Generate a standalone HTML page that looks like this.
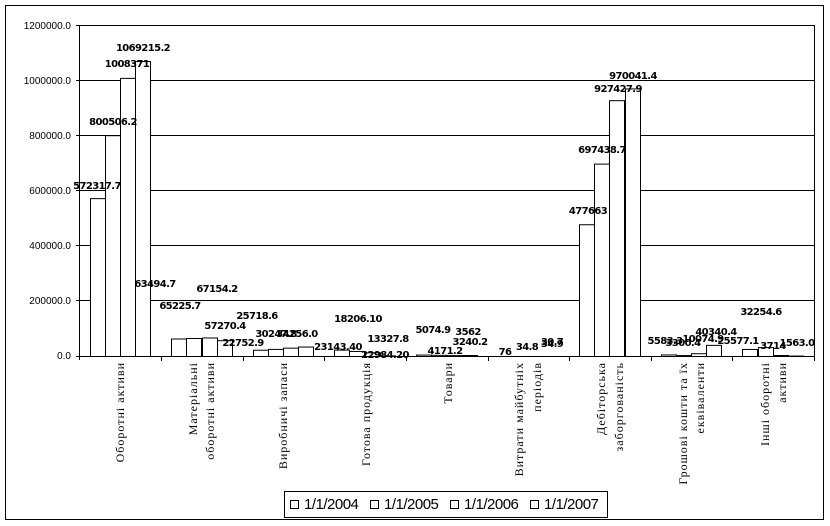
<!DOCTYPE html>
<html><head><meta charset="utf-8"><style>
body{margin:0;background:#fff}
svg{display:block}
.v{font-family:"DejaVu Sans","Liberation Sans",sans-serif;font-weight:bold;font-size:10px;letter-spacing:-0.6px;text-anchor:middle;fill:#000}
.y{font-family:"Liberation Sans",sans-serif;font-size:10px;text-anchor:end}
.c{font-family:"Liberation Serif",serif;font-size:12px;letter-spacing:1px;text-anchor:end}
</style></head><body>
<svg width="830" height="526" viewBox="0 0 830 526">
<rect x="5.5" y="5.5" width="818" height="514" fill="#fff" stroke="#000"/>
<g stroke="#000" stroke-width="1">
<line x1="80" y1="25.5" x2="814" y2="25.5"/>
<line x1="80" y1="80.5" x2="814" y2="80.5"/>
<line x1="80" y1="135.5" x2="814" y2="135.5"/>
<line x1="80" y1="190.5" x2="814" y2="190.5"/>
<line x1="80" y1="245.5" x2="814" y2="245.5"/>
<line x1="80" y1="300.5" x2="814" y2="300.5"/>
<line x1="814.5" y1="25" x2="814.5" y2="356"/>
</g>
<g class="y">
<text x="71" y="29">1200000.0</text><text x="71" y="84">1000000.0</text><text x="71" y="139">800000.0</text>
<text x="71" y="194">600000.0</text><text x="71" y="249">400000.0</text><text x="71" y="304">200000.0</text><text x="71" y="359">0.0</text>
</g>
<g id="bars" fill="#fff" stroke="#000" stroke-width="1"></g>
<g stroke="#000">
<line x1="79.5" y1="25" x2="79.5" y2="360"/>
<line x1="76" y1="356.5" x2="814" y2="356.5"/>
<line x1="76" y1="25.5" x2="80" y2="25.5"/><line x1="76" y1="80.5" x2="80" y2="80.5"/><line x1="76" y1="135.5" x2="80" y2="135.5"/>
<line x1="76" y1="190.5" x2="80" y2="190.5"/><line x1="76" y1="245.5" x2="80" y2="245.5"/><line x1="76" y1="300.5" x2="80" y2="300.5"/>
<line x1="161.5" y1="356" x2="161.5" y2="361"/><line x1="243.5" y1="356" x2="243.5" y2="361"/><line x1="324.5" y1="356" x2="324.5" y2="361"/>
<line x1="406.5" y1="356" x2="406.5" y2="361"/><line x1="488.5" y1="356" x2="488.5" y2="361"/><line x1="569.5" y1="356" x2="569.5" y2="361"/>
<line x1="651.5" y1="356" x2="651.5" y2="361"/><line x1="732.5" y1="356" x2="732.5" y2="361"/><line x1="814.5" y1="356" x2="814.5" y2="361"/>
</g>
<g class="v">
<text x="97" y="189">572317.7</text><text x="113" y="125">800506.2</text><text x="127" y="67">1008371</text><text x="143" y="51">1069215.2</text>
<text x="155" y="287">63494.7</text><text x="180" y="309">65225.7</text><text x="217" y="292">67154.2</text><text x="225" y="329">57270.4</text>
<text x="243" y="346">22752.9</text><text x="257" y="319">25718.6</text><text x="276" y="337">30247.8</text><text x="297" y="337">34256.0</text>
<text x="338" y="350">23143.40</text><text x="358" y="322">18206.10</text><text x="388" y="342">13327.8</text><text x="385" y="358">22984.20</text>
<text x="433" y="333">5074.9</text><text x="445" y="354">4171.2</text><text x="470" y="345">3240.2</text><text x="468" y="335">3562</text>
<text x="505" y="355">76</text><text x="527" y="350">34.8</text><text x="552" y="345">30.7</text><text x="552" y="347">34.9</text>
<text x="588" y="214">477663</text><text x="602" y="153">697438.7</text><text x="618" y="92">927427.9</text><text x="633" y="79">970041.4</text>
<text x="665" y="344">5583.3</text><text x="683" y="346">3300.4</text><text x="703" y="342">10074.9</text><text x="716" y="335">40340.4</text>
<text x="738" y="344">25577.1</text><text x="761" y="315">32254.6</text><text x="773" y="349">3714</text><text x="797" y="346">1563.0</text>
</g>
<g class="c">
<text transform="translate(124,362) rotate(-90)">Оборотні активи</text>
<text transform="translate(197,362) rotate(-90)">Матеріальні</text>
<text transform="translate(214,362) rotate(-90)">оборотні активи</text>
<text transform="translate(287,362) rotate(-90)">Виробничі запаси</text>
<text transform="translate(370,362) rotate(-90)">Готова продукція</text>
<text transform="translate(452,362) rotate(-90)">Товари</text>
<text transform="translate(523,362) rotate(-90)">Витрати майбутніх</text>
<text transform="translate(541,362) rotate(-90)">періодів</text>
<text transform="translate(605,362) rotate(-90)">Дебіторська</text>
<text transform="translate(623,362) rotate(-90)">заборгованість</text>
<text transform="translate(687,362) rotate(-90)">Грошові кошти та їх</text>
<text transform="translate(704,362) rotate(-90)">еквіваленти</text>
<text transform="translate(769,362) rotate(-90)">Інші оборотні</text>
<text transform="translate(786,362) rotate(-90)">активи</text>
</g>
<rect x="284.5" y="491.5" width="323" height="26" fill="#fff" stroke="#000"/>
<g fill="#fff" stroke="#000"><rect x="290.5" y="500.5" width="8" height="8"/><rect x="370.5" y="500.5" width="8" height="8"/><rect x="450.5" y="500.5" width="8" height="8"/><rect x="530.5" y="500.5" width="8" height="8"/></g>
<g font-family="Liberation Sans,sans-serif" font-size="15px" letter-spacing="-0.5px">
<text x="304" y="509">1/1/2004</text><text x="384" y="509">1/1/2005</text><text x="464" y="509">1/1/2006</text><text x="544" y="509">1/1/2007</text>
</g>
</svg>
<script>
var d=[[572317.7,800506.2,1008371,1069215.2],[63494.7,65225.7,67154.2,57270.4],[22752.9,25718.6,30247.8,34256],[23143.4,18206.1,13327.8,2298],[5074.9,4171.2,3240.2,3562],[76,34.8,34.9,30.7],[477663,697438.7,927427.9,970041.4],[5583.3,3300.4,10074.9,40340.4],[25577.1,32254.6,3714,1563]];
var g=document.getElementById('bars'),s='';
for(var i=0;i<9;i++)for(var j=0;j<4;j++){var x=80+81.6*i+9.5+15.2*j,h=d[i][j]*331/1200000;s+='<rect x="'+(Math.round(x)+0.5)+'" y="'+(356.5-h)+'" width="15" height="'+h+'"/>';}
g.innerHTML=s;
</script>
</body></html>
